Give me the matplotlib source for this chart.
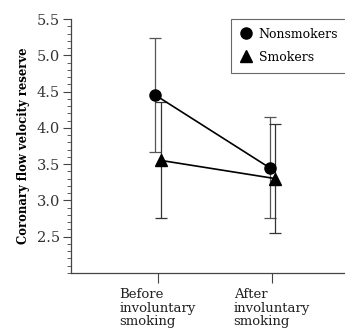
import numpy as np
import matplotlib
matplotlib.use('Agg')
import matplotlib.pyplot as plt
from matplotlib.ticker import MultipleLocator

# Data
conditions = ['Before\ninvoluntary\nsmoking', 'After\ninvoluntary\nsmoking']
nonsmokers = [4.45, 3.45]
nonsmokers_err = [0.79, 0.70]
smokers = [3.55, 3.30]
smokers_err = [0.80, 0.75]

plt.rcParams['font.family'] = 'DejaVu Serif'

fig = plt.figure(figsize=(3.45, 3.34), dpi=100)
ax = fig.add_axes([0.206, 0.183, 0.80, 0.760])

x = np.arange(len(conditions))
ax.errorbar(x - 0.02, nonsmokers, yerr=nonsmokers_err, fmt='none', ecolor='#555555',
            elinewidth=0.9, capsize=4, capthick=0.9, zorder=1)
ax.errorbar(x + 0.03, smokers, yerr=smokers_err, fmt='none', ecolor='#333333',
            elinewidth=0.9, capsize=4, capthick=0.9, zorder=1)
ax.plot(x - 0.02, nonsmokers, '-o', color='black', lw=1.2, markersize=8,
        label='Nonsmokers', zorder=3)
ax.plot(x + 0.03, smokers, '-^', color='black', lw=1.2, markersize=8,
        label='Smokers', zorder=3)

ax.set_xlim(-0.76, 1.66)
ax.set_ylim(2.0, 5.5)
ax.set_yticks([2.5, 3.0, 3.5, 4.0, 4.5, 5.0, 5.5])
ax.set_yticklabels(['2.5', '3.0', '3.5', '4.0', '4.5', '5.0', '5.5'])
ax.yaxis.set_minor_locator(MultipleLocator(0.1))
ax.set_xticks(x)
ax.set_xticklabels(conditions, multialignment='left', fontsize=9.5, linespacing=1.05)

ax.spines['top'].set_visible(False)
ax.spines['right'].set_visible(False)
for s in ['left', 'bottom']:
    ax.spines[s].set_color('#444444')
    ax.spines[s].set_linewidth(0.9)

ax.tick_params(axis='y', which='major', length=6, labelsize=10.5, colors='#444444',
               labelcolor='#333333', pad=2)
ax.tick_params(axis='y', which='minor', length=3, colors='#444444')
ax.tick_params(axis='x', length=7, colors='#444444', labelcolor='#222222', pad=4)

ax.set_ylabel('Coronary flow velocity reserve', fontweight='bold', fontsize=8.4,
              labelpad=5)

leg = ax.legend(loc='upper left', bbox_to_anchor=(0.58, 1.0), borderaxespad=0,
                fontsize=9, frameon=True, fancybox=False, edgecolor='#444444',
                handlelength=1.0, handletextpad=0.5, borderpad=0.7,
                labelspacing=0.8)
leg.get_frame().set_linewidth(0.8)
for h in leg.legend_handles:
    h.set_linestyle('')

fig.savefig('out.png', dpi=100)
